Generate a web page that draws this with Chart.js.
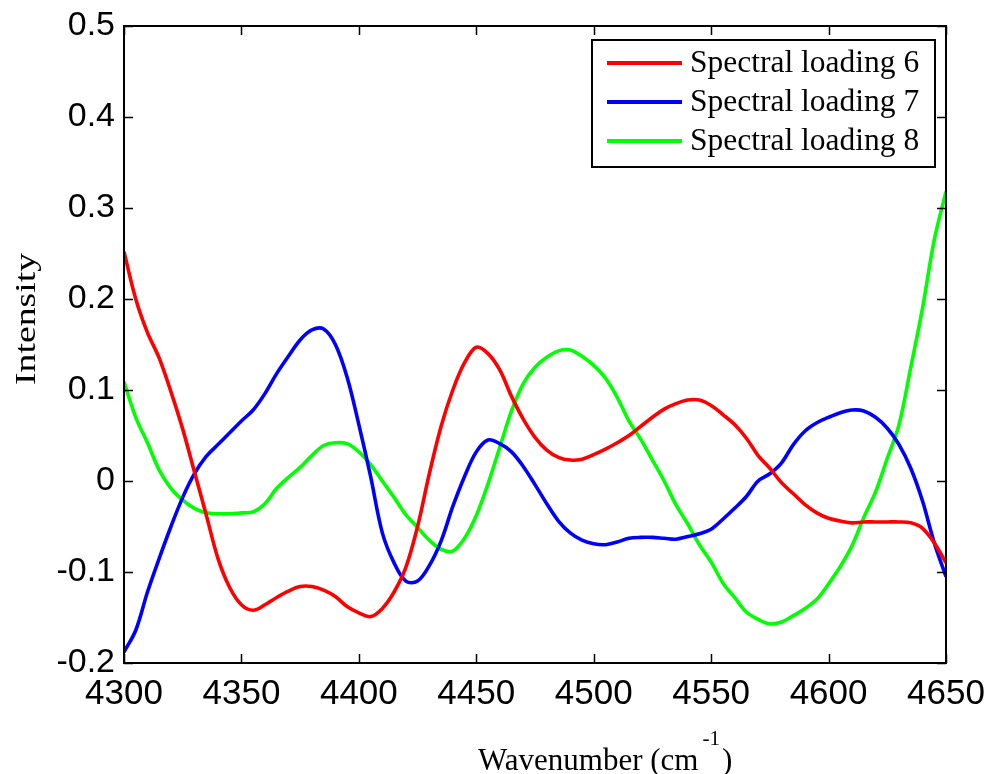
<!DOCTYPE html>
<html lang="en">
<head>
  <meta charset="UTF-8">
  <title>Spectral loadings</title>
  <script src="https://cdn.jsdelivr.net/npm/chart.js"></script>
  <style>
    body { margin: 0; background: #fff; }
    canvas { display: block; }
  </style>
</head>
<body>
  <canvas id="chart" width="990" height="774"></canvas>

  <script>
    // wavenumber grid (cm-1), 5 cm-1 steps
    const wavenumbers = [
      4300, 4305, 4310, 4315, 4320, 4325, 4330, 4335, 4340, 4345,
      4350, 4355, 4360, 4365, 4370, 4375, 4380, 4385, 4390, 4395,
      4400, 4405, 4410, 4415, 4420, 4425, 4430, 4435, 4440, 4445,
      4450, 4455, 4460, 4465, 4470, 4475, 4480, 4485, 4490, 4495,
      4500, 4505, 4510, 4515, 4520, 4525, 4530, 4535, 4540, 4545,
      4550, 4555, 4560, 4565, 4570, 4575, 4580, 4585, 4590, 4595,
      4600, 4605, 4610, 4615, 4620, 4625, 4630, 4635, 4640, 4645, 4650
    ];

    const loading6 = [
      0.252, 0.200, 0.163, 0.135, 0.098, 0.057, 0.010, -0.037, -0.085, -0.117,
      -0.136, -0.142, -0.136, -0.128, -0.121, -0.116, -0.116, -0.120, -0.127, -0.138,
      -0.145, -0.149, -0.140, -0.122, -0.095, -0.050, 0.008, 0.060, 0.100, 0.130,
      0.147, 0.140, 0.122, 0.093, 0.068, 0.048, 0.034, 0.026, 0.023, 0.024,
      0.029, 0.035, 0.042, 0.050, 0.060, 0.070, 0.079, 0.085, 0.089, 0.089,
      0.083, 0.073, 0.062, 0.047, 0.028, 0.014, -0.002, -0.014, -0.026, -0.035,
      -0.041, -0.044, -0.046, -0.045, -0.045, -0.045, -0.045, -0.046, -0.052, -0.068, -0.090
    ];

    const loading7 = [
      -0.188, -0.164, -0.122, -0.085, -0.050, -0.018, 0.008, 0.027, 0.040, 0.053,
      0.066, 0.078, 0.096, 0.118, 0.137, 0.155, 0.166, 0.167, 0.150, 0.114,
      0.062, 0.005, -0.057, -0.090, -0.110, -0.110, -0.093, -0.066, -0.028, 0.005,
      0.032, 0.045, 0.041, 0.032, 0.016, -0.004, -0.025, -0.044, -0.057, -0.065,
      -0.069, -0.070, -0.067, -0.063, -0.062, -0.062, -0.063, -0.064, -0.061, -0.058,
      -0.053, -0.042, -0.030, -0.017, 0.000, 0.008, 0.020, 0.040, 0.055, 0.064,
      0.070, 0.075, 0.078, 0.077, 0.070, 0.058, 0.040, 0.014, -0.022, -0.068, -0.105
    ];

    const loading8 = [
      0.109, 0.070, 0.042, 0.012, -0.008, -0.021, -0.030, -0.035, -0.036, -0.036,
      -0.035, -0.034, -0.025, -0.008, 0.004, 0.015, 0.028, 0.039, 0.042, 0.041,
      0.032, 0.018, 0.000, -0.018, -0.037, -0.051, -0.065, -0.075, -0.077, -0.063,
      -0.038, -0.003, 0.037, 0.077, 0.107, 0.125, 0.136, 0.143, 0.144, 0.137,
      0.127, 0.113, 0.092, 0.066, 0.046, 0.023, 0.000, -0.026, -0.047, -0.070,
      -0.089, -0.112, -0.128, -0.144, -0.152, -0.157, -0.155, -0.148, -0.140, -0.130,
      -0.113, -0.094, -0.071, -0.040, -0.012, 0.025, 0.062, 0.125, 0.190, 0.265, 0.318
    ];

    const seriesNames = ['Spectral loading 6', 'Spectral loading 7', 'Spectral loading 8'];
    const seriesColors = ['#ff0000', '#0000ff', '#00ff00'];
    const xTicks = [4300, 4350, 4400, 4450, 4500, 4550, 4600, 4650];
    const yTicks = [-0.2, -0.1, 0, 0.1, 0.2, 0.3, 0.4, 0.5];

    const serif = '"Liberation Serif", "Times New Roman", serif';
    const sans = '"Liberation Sans", Arial, sans-serif';

    function points(values) {
      return values.map((v, i) => ({ x: wavenumbers[i], y: v }));
    }

    // box around the axes with inward tick marks on all four sides
    const framePlugin = {
      id: 'frame',
      afterDraw(chart) {
        const { ctx, chartArea: a, scales } = chart;
        const len = 9;
        ctx.save();
        ctx.strokeStyle = '#000';
        ctx.lineWidth = 2;
        ctx.strokeRect(a.left, a.top, a.right - a.left, a.bottom - a.top);
        ctx.lineWidth = 1.5;
        ctx.beginPath();
        xTicks.forEach(t => {
          const px = Math.round(scales.x.getPixelForValue(t)) + 0.5;
          ctx.moveTo(px, a.bottom); ctx.lineTo(px, a.bottom - len);
          ctx.moveTo(px, a.top); ctx.lineTo(px, a.top + len);
        });
        yTicks.forEach(t => {
          const py = Math.round(scales.y.getPixelForValue(t)) + 0.5;
          ctx.moveTo(a.left, py); ctx.lineTo(a.left + len, py);
          ctx.moveTo(a.right, py); ctx.lineTo(a.right - len, py);
        });
        ctx.stroke();
        ctx.restore();
      }
    };

    // axis titles (x title carries a superscript) and the boxed legend
    const labelsPlugin = {
      id: 'labels',
      afterDraw(chart) {
        const { ctx } = chart;
        ctx.save();
        ctx.fillStyle = '#000';
        ctx.textBaseline = 'alphabetic';

        // x title
        ctx.font = '31px ' + serif;
        const main = 'Wavenumber (cm';
        ctx.textAlign = 'left';
        ctx.fillText(main, 478, 770);
        const w = ctx.measureText(main).width;
        ctx.font = '21px ' + serif;
        ctx.fillText('-1', 478 + w + 4, 745);
        const sw = ctx.measureText('-1').width;
        ctx.font = '31px ' + serif;
        ctx.fillText(')', 478 + w + 4 + sw + 2, 770);

        // y title, rotated
        ctx.save();
        ctx.translate(35, 319);
        ctx.rotate(-Math.PI / 2);
        ctx.font = '30px ' + serif;
        const yt = 'Intensity';
        const yw = ctx.measureText(yt).width;
        ctx.scale(132 / yw, 1);
        ctx.textAlign = 'center';
        ctx.fillText(yt, 0, 0);
        ctx.restore();

        // legend
        const box = { x: 592, y: 40, w: 343, h: 127 };
        ctx.fillStyle = '#fff';
        ctx.fillRect(box.x, box.y, box.w, box.h);
        ctx.strokeStyle = '#000';
        ctx.lineWidth = 2;
        ctx.strokeRect(box.x, box.y, box.w, box.h);
        const rows = [63, 102, 141];
        seriesNames.forEach((name, i) => {
          ctx.strokeStyle = seriesColors[i];
          ctx.lineWidth = 4;
          ctx.beginPath();
          ctx.moveTo(607, rows[i]);
          ctx.lineTo(682, rows[i]);
          ctx.stroke();
          ctx.fillStyle = '#000';
          ctx.font = '31.5px ' + serif;
          ctx.textAlign = 'left';
          ctx.textBaseline = 'middle';
          ctx.fillText(name, 690, rows[i] + 1);
        });
        ctx.restore();
      }
    };

    const datasets = [loading6, loading7, loading8].map((vals, i) => ({
      label: seriesNames[i],
      data: points(vals),
      borderColor: seriesColors[i],
      backgroundColor: seriesColors[i],
      borderWidth: 3.6,
      pointRadius: 0,
      tension: 0.35,
      fill: false
    }));

    new Chart(document.getElementById('chart'), {
      type: 'line',
      data: { datasets },
      plugins: [framePlugin, labelsPlugin],
      options: {
        responsive: false,
        animation: false,
        layout: { padding: { top: 26, right: 44, left: 0, bottom: 0 } },
        plugins: {
          legend: { display: false },
          tooltip: { enabled: false }
        },
        scales: {
          x: {
            type: 'linear',
            min: 4300,
            max: 4650,
            afterBuildTicks: scale => { scale.ticks = xTicks.map(v => ({ value: v })); },
            afterFit: scale => {
              scale.height = 111;
              scale.paddingLeft = 0;
              scale.paddingRight = 0;
            },
            grid: { drawOnChartArea: false, drawTicks: false },
            border: { display: false },
            ticks: {
              color: '#000',
              font: { family: sans, size: 35 },
              padding: 10,
              maxRotation: 0,
              callback: v => String(v)
            }
          },
          y: {
            type: 'linear',
            min: -0.2,
            max: 0.5,
            afterBuildTicks: scale => { scale.ticks = yTicks.map(v => ({ value: v })); },
            afterFit: scale => {
              scale.width = 124;
              scale.paddingTop = 0;
              scale.paddingBottom = 0;
            },
            grid: { drawOnChartArea: false, drawTicks: false },
            border: { display: false },
            ticks: {
              color: '#000',
              font: { family: sans, size: 34 },
              padding: 9,
              callback: v => String(Math.round(v * 10) / 10)
            }
          }
        }
      }
    });
  </script>
</body>
</html>
